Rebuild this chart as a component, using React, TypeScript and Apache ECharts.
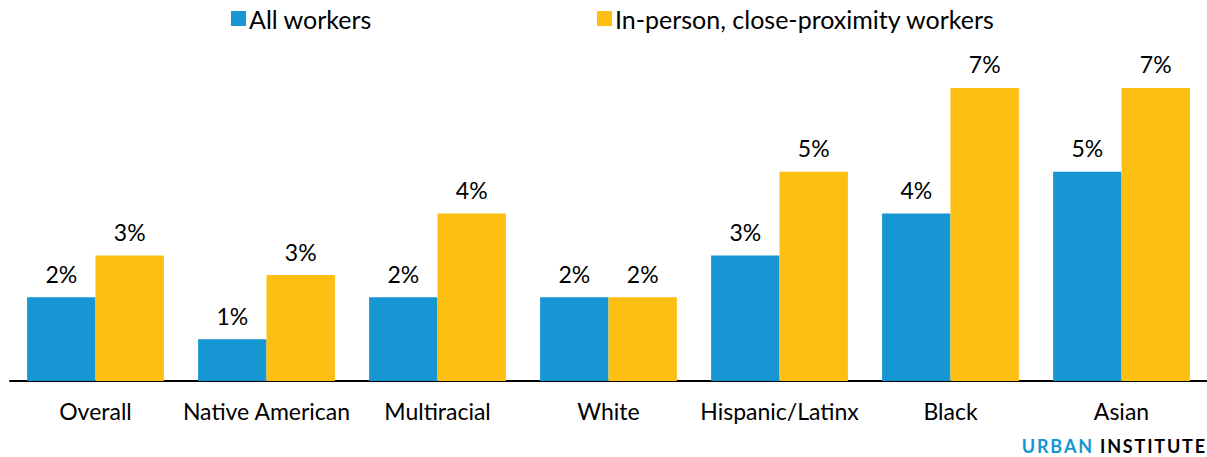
import React, { useEffect, useRef } from "react";
import * as echarts from "echarts";

const categories = ["Overall", "Native American", "Multiracial", "White", "Hispanic/Latinx", "Black", "Asian"];
const allWorkers = [2.0, 1.0, 2.0, 2.0, 3.0, 4.0, 5.0];
const closeProximity = [3.0, 2.53, 4.0, 2.0, 5.0, 7.0, 7.0];
const seriesNames = ["All workers", "In-person, close-proximity workers"];

const BLUE = "#1696d2";
const YELLOW = "#fdbf11";
const FONT = "Lato, 'Open Sans', sans-serif";

function buildLogo(): any[] {
  const ctx = document.createElement("canvas").getContext("2d") as CanvasRenderingContext2D;
  const size = 18;
  ctx.font = `bold ${size}px Lato`;
  const spacing = 1.8;
  const parts: { t: string; c: string }[] = [
    { t: "URBAN", c: BLUE },
    { t: " ", c: "#000" },
    { t: "INSTITUTE", c: "#000" },
  ];
  const chars: { ch: string; c: string; w: number }[] = [];
  parts.forEach((p) => {
    for (const ch of p.t) chars.push({ ch, c: p.c, w: ctx.measureText(ch).width });
  });
  const total = chars.reduce((s, c) => s + c.w, 0) + spacing * (chars.length - 1);
  let x = 1205 - total;
  const els: any[] = [];
  chars.forEach((c) => {
    if (c.ch !== " ") {
      els.push({
        type: "text",
        x,
        y: 446,
        style: { text: c.ch, fill: c.c, font: `bold ${size}px Lato`, verticalAlign: "middle" },
      });
    }
    x += c.w + spacing;
  });
  return els;
}

export default function App() {
  const ref = useRef<HTMLDivElement>(null);
  useEffect(() => {
    if (!ref.current) return;
    const chart = echarts.init(ref.current, null, { renderer: "svg" });
    const labelCfg = {
      show: true,
      position: "top" as const,
      distance: 12,
      fontSize: 23,
      fontFamily: FONT,
      color: "#000",
      formatter: (p: any) => `${Math.round(p.value)}%`,
    };
    const legendText = { fontSize: 25, color: "#000", fontFamily: FONT, padding: [0, 0, 0, -2] };
    chart.setOption({
      animation: false,
      textStyle: { fontFamily: FONT },
      legend: [
        {
          data: [seriesNames[0]],
          left: 226,
          top: 1,
          icon: "rect",
          itemWidth: 15,
          itemHeight: 15,
          textStyle: legendText,
        },
        {
          data: [seriesNames[1]],
          left: 592,
          top: 1,
          icon: "rect",
          itemWidth: 15,
          itemHeight: 15,
          textStyle: legendText,
        },
      ],
      grid: { left: 10, right: 0, top: 46, bottom: 76, containLabel: false },
      xAxis: {
        type: "category",
        data: categories,
        axisLine: { show: true, lineStyle: { color: "#000", width: 2 } },
        axisTick: { show: false },
        axisLabel: { fontSize: 23, color: "#000", fontFamily: FONT, margin: 18, interval: 0 },
      },
      yAxis: {
        type: "value",
        min: 0,
        max: 8,
        show: false,
        splitLine: { show: false },
      },
      series: [
        {
          name: seriesNames[0],
          type: "bar",
          data: allWorkers,
          itemStyle: { color: BLUE },
          barGap: "0%",
          barCategoryGap: "20%",
          label: labelCfg,
        },
        {
          name: seriesNames[1],
          type: "bar",
          data: closeProximity,
          itemStyle: { color: YELLOW },
          barGap: "0%",
          barCategoryGap: "20%",
          label: labelCfg,
        },
      ],
      graphic: buildLogo(),
    });
    return () => chart.dispose();
  }, []);
  return (
    <div
      ref={ref}
      style={{ position: "absolute", left: 0, top: 0, width: 1207, height: 457, background: "#fff" }}
    />
  );
}
